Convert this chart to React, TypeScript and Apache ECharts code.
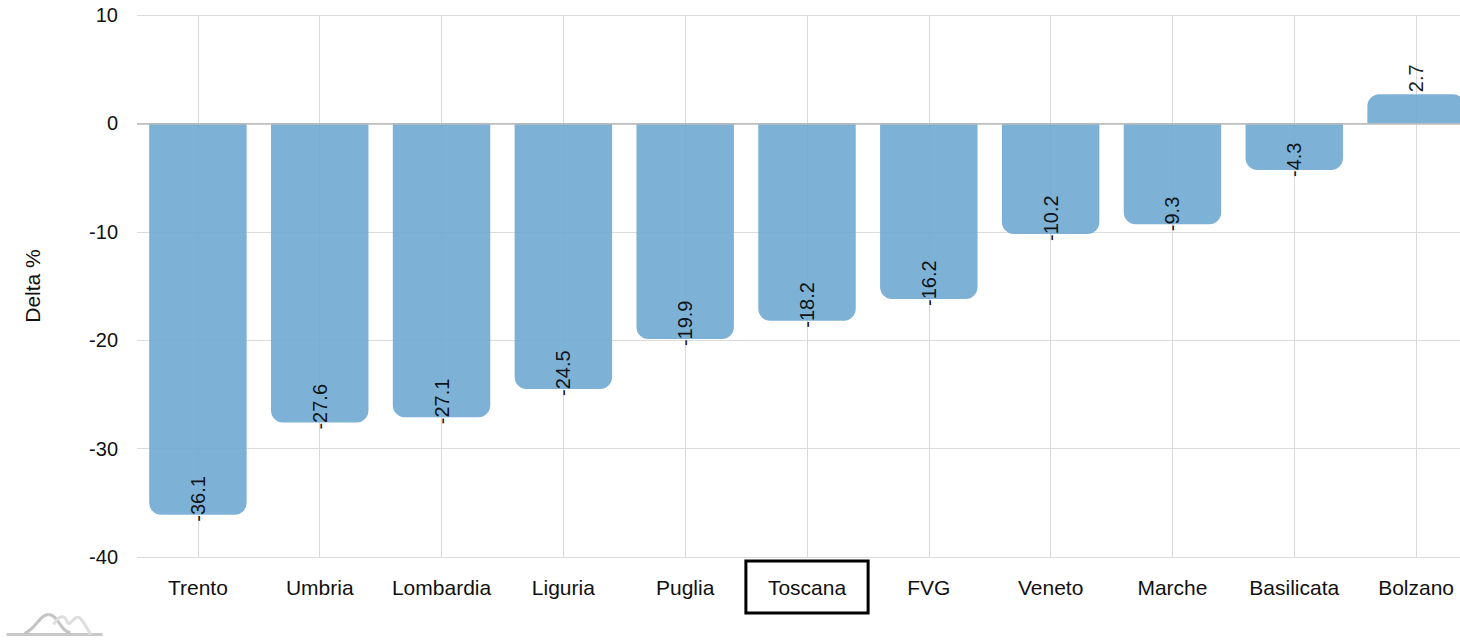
import React, { useEffect, useRef } from "react";
import * as echarts from "echarts";

const categories = ["Trento", "Umbria", "Lombardia", "Liguria", "Puglia", "Toscana", "FVG", "Veneto", "Marche", "Basilicata", "Bolzano"];
const values = [-36.1, -27.6, -27.1, -24.5, -19.9, -18.2, -16.2, -10.2, -9.3, -4.3, 2.7];
const highlighted = "Toscana";
const yTitle = "Delta %";

const FONT = "'Liberation Sans', Arial, Helvetica, sans-serif";

export default function App() {
  const ref = useRef<HTMLDivElement>(null);
  useEffect(() => {
    if (!ref.current) return;
    const chart = echarts.init(ref.current, null, { renderer: "svg" });
    const data = values.map((v) => ({
      value: v,
      itemStyle: { borderRadius: v < 0 ? [0, 0, 12, 12] : [12, 12, 0, 0] },
      label: { position: v < 0 ? "bottom" : "top", distance: v < 0 ? 7 : 2 },
    }));
    chart.setOption({
      animation: false,
      textStyle: { fontFamily: FONT },
      grid: { left: 137, width: 1340, top: 15, height: 542, containLabel: false },
      xAxis: {
        type: "category",
        data: categories,
        axisLine: { show: false },
        axisTick: { show: false, alignWithLabel: true },
        splitLine: { show: true, alignWithLabel: true, lineStyle: { color: "#d9d9d9", width: 1 } },
        axisLabel: {
          color: "#111",
          fontSize: 21,
          fontFamily: FONT,
          margin: 30,
          verticalAlign: "middle",
          interval: 0,
          formatter: (v: string) => (v === highlighted ? `{box|${v}}` : v),
          rich: {
            box: {
              fontSize: 21,
              fontFamily: FONT,
              color: "#111",
              borderColor: "#000",
              borderWidth: 3,
              padding: [16, 22, 15, 22],
            },
          },
        },
      },
      yAxis: {
        type: "value",
        min: -40,
        max: 10,
        interval: 10,
        name: yTitle,
        nameLocation: "middle",
        nameGap: 94,
        nameRotate: 90,
        nameTextStyle: { fontSize: 21, color: "#111", fontFamily: FONT },
        axisLine: { show: false },
        axisTick: { show: false },
        axisLabel: { fontSize: 20, color: "#111", margin: 19, fontFamily: FONT },
        splitLine: { lineStyle: { color: "#dcdcdc", width: 1 } },
      },
      series: [
        {
          type: "bar",
          data,
          barCategoryGap: "20%",
          itemStyle: { color: "#6fa8d1", opacity: 0.9 },
          label: {
            show: true,
            rotate: 90,
            align: "left",
            verticalAlign: "middle",
            fontSize: 20,
            color: "#000",
            fontFamily: FONT,
            formatter: (p: any) => String(p.value),
          },
          markLine: {
            silent: true,
            symbol: "none",
            label: { show: false },
            lineStyle: { color: "#b8b8b8", width: 1.5, type: "solid" },
            data: [{ yAxis: 0 }],
          },
        },
      ],
      graphic: [
        {
          type: "group",
          left: 4,
          top: 612,
          children: [
            { type: "line", shape: { x1: 0, y1: 22, x2: 96, y2: 22 }, style: { stroke: "#c8c8c8", lineWidth: 3 } },
            {
              type: "bezierCurve",
              shape: { x1: 18, y1: 21, cpx1: 30, cpy1: 16, cpx2: 33, cpy2: 2, x2: 42, y2: 2 },
              style: { stroke: "#c4c4c4", lineWidth: 3, fill: "none" },
            },
            {
              type: "bezierCurve",
              shape: { x1: 42, y1: 2, cpx1: 52, cpy1: 2, cpx2: 54, cpy2: 20, x2: 64, y2: 20 },
              style: { stroke: "#c4c4c4", lineWidth: 3, fill: "none" },
            },
            {
              type: "polyline",
              shape: { points: [[47, 12], [53, 5], [58, 5], [62, 11], [65, 9], [70, 5], [74, 6], [84, 22]], smooth: 0.4 },
              style: { stroke: "#dedede", lineWidth: 3, fill: "none" },
            },
          ],
        },
      ],
    });
    return () => chart.dispose();
  }, []);
  return (
    <div style={{ position: "absolute", left: 0, top: 0, width: 1460, height: 641, overflow: "hidden" }}>
      <div ref={ref} style={{ width: 1490, height: 641 }} />
    </div>
  );
}
